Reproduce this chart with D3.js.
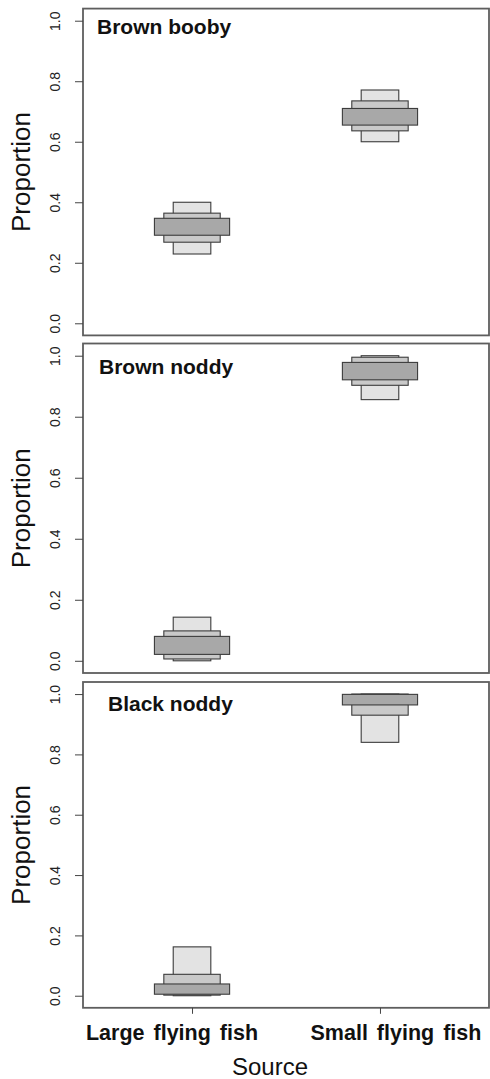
<!DOCTYPE html>
<html>
<head>
<meta charset="utf-8">
<script src="https://cdn.jsdelivr.net/npm/d3@7"></script>
<style>
  html, body { margin: 0; padding: 0; background: #fff; }
  svg { display: block; font-family: "Liberation Sans", Arial, sans-serif; }
</style>
</head>
<body>
<svg id="chart" width="490" height="1079"></svg>
<script>
// ---------- data ----------
const panelNames = ["Brown booby", "Brown noddy", "Black noddy"];
const sources = ["Large flying fish", "Small flying fish"];
const levels = ["95%", "75%", "50%"];
const yTicks = [0, 0.2, 0.4, 0.6, 0.8, 1.0];
// credible intervals per source: [lo95, lo75, lo50, hi50, hi75, hi95]
const brownBoobyLarge = [0.229, 0.268, 0.291, 0.347, 0.364, 0.400];
const brownBoobySmall = [0.600, 0.636, 0.655, 0.710, 0.735, 0.771];
const brownNoddyLarge = [0.000, 0.006, 0.021, 0.080, 0.098, 0.143];
const brownNoddySmall = [0.856, 0.903, 0.921, 0.978, 0.995, 1.000];
const blackNoddyLarge = [0.000, 0.002, 0.005, 0.039, 0.071, 0.162];
const blackNoddySmall = [0.840, 0.930, 0.964, 0.999, 1.000, 1.000];

const panelData = [
  [brownBoobyLarge, brownBoobySmall],
  [brownNoddyLarge, brownNoddySmall],
  [blackNoddyLarge, blackNoddySmall]
];

// ---------- layout ----------
const plotLeft = 83, plotRight = 489;
const panelTop = [8.6, 343.5, 682];
const panelBottom = [335.4, 673, 1007.8];
const titlePos = [[97, 34], [99, 374], [108, 711]];
const boxHalf = [0.1, 0.15, 0.2]; // half-widths in x units for 95,75,50
const fills = ["#e3e3e3", "#c9c9c9", "#a8a8a8"];

const svg = d3.select("#chart");

const x = d3.scaleLinear().domain([0.42, 2.58]).range([plotLeft, plotRight]);

panelNames.forEach((name, p) => {
  const y = d3.scaleLinear().domain([-0.04, 1.04]).range([panelBottom[p], panelTop[p]]);
  const g = svg.append("g");

  // boxes
  panelData[p].forEach((iv, s) => {
    levels.forEach((lv, k) => {
      const lo = iv[k], hi = iv[5 - k];
      const cx = s + 1;
      g.append("rect")
        .attr("x", x(cx - boxHalf[k]))
        .attr("width", x(cx + boxHalf[k]) - x(cx - boxHalf[k]))
        .attr("y", y(hi))
        .attr("height", y(lo) - y(hi))
        .attr("fill", fills[k])
        .attr("stroke", "#3c3c3c")
        .attr("stroke-width", 1.1);
    });
  });

  // frame
  g.append("rect")
    .attr("x", plotLeft).attr("y", panelTop[p])
    .attr("width", plotRight - plotLeft).attr("height", panelBottom[p] - panelTop[p])
    .attr("fill", "none").attr("stroke", "#5e5e5e").attr("stroke-width", 1.8);

  // y axis
  const ya = g.append("g").attr("transform", `translate(${plotLeft},0)`)
    .call(d3.axisLeft(y).tickValues(yTicks).tickFormat(d3.format(".1f")).tickSize(8).tickPadding(0));
  ya.select(".domain").remove();
  ya.selectAll(".tick line").attr("stroke", "#444").attr("stroke-width", 1);
  ya.selectAll(".tick text")
    .attr("x", 0).attr("y", 0).attr("dy", null)
    .attr("transform", "translate(-28,0) rotate(-90)")
    .attr("text-anchor", "middle")
    .attr("dominant-baseline", "central")
    .attr("font-size", 14).attr("fill", "#222");

  // y label
  svg.append("text")
    .attr("transform", `translate(30,${(panelTop[p] + panelBottom[p]) / 2}) rotate(-90)`)
    .attr("text-anchor", "middle")
    .attr("font-size", 26).attr("fill", "#111")
    .text("Proportion");

  // title
  svg.append("text")
    .attr("x", titlePos[p][0]).attr("y", titlePos[p][1])
    .attr("font-size", 21).attr("font-weight", "bold").attr("fill", "#111")
    .text(name);

  // x axis on bottom panel only
  if (p === panelNames.length - 1) {
    const xa = svg.append("g").attr("transform", `translate(0,${panelBottom[p]})`)
      .call(d3.axisBottom(x).tickValues([1, 2]).tickFormat("").tickSize(6));
    xa.select(".domain").remove();
    xa.selectAll(".tick line").attr("stroke", "#444");
    const labelDx = [-20, 16];
    sources.forEach((s, i) => {
      svg.append("text")
        .attr("x", x(i + 1) + labelDx[i]).attr("y", 1040)
        .attr("text-anchor", "middle")
        .attr("font-size", 21.5).attr("font-weight", "bold").attr("fill", "#111")
        .attr("word-spacing", 3)
        .text(s);
    });
    svg.append("text")
      .attr("x", 270).attr("y", 1075)
      .attr("text-anchor", "middle")
      .attr("font-size", 24).attr("fill", "#111")
      .text("Source");
  }
});
</script>
</body>
</html>
